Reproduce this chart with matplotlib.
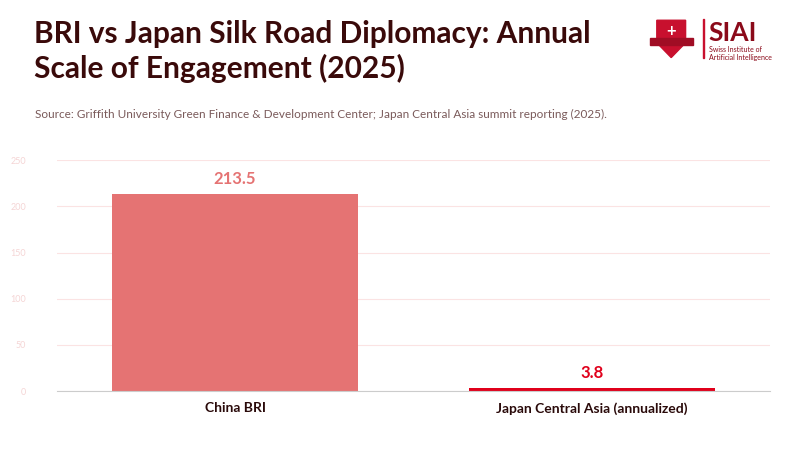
import matplotlib
matplotlib.use('Agg')
import matplotlib.pyplot as plt
from matplotlib.patches import Polygon, Rectangle

plt.rcParams['font.family'] = ['Lato', 'DejaVu Sans']

categories = ['China BRI', 'Japan Central Asia (annualized)']
values = [213.5, 3.8]
bar_colors = ['#e57373', '#e0001b']
label_colors = ['#e57373', '#e0001b']
yticks = [0, 50, 100, 150, 200, 250]

fig = plt.figure(figsize=(8, 4.5), dpi=100)
ax = fig.add_axes([0.071, 0.131, 0.8915, 0.513])

x = range(len(categories))
ax.bar(x, values, width=0.69, color=bar_colors, zorder=2)
for i, v in enumerate(values):
    ax.text(i, v + 7, f'{v}', ha='center', va='bottom', fontsize=12,
            fontweight='bold', color=label_colors[i])

ax.set_xlim(-0.5, 1.5)
ax.set_ylim(0, 250)
ax.set_yticks(yticks)
ax.set_yticklabels([str(t) for t in yticks], fontsize=6.5, color='#f5d5d5')
ax.set_xticks(list(x))
ax.set_xticklabels(categories, fontsize=10, fontweight='bold', color='#2a0a0a')
ax.tick_params(axis='y', length=0, pad=22)
ax.tick_params(axis='x', length=0, pad=8)
ax.grid(axis='y', color='#fbe3e3', linewidth=0.8, zorder=0)
for s in ['top', 'right', 'left']:
    ax.spines[s].set_visible(False)
ax.spines['bottom'].set_color('#cccccc')

fig.text(0.043, 0.955, 'BRI vs Japan Silk Road Diplomacy: Annual\nScale of Engagement (2025)',
         fontsize=21.5, fontweight='bold', color='#3a0a0a', va='top', linespacing=1.25)
fig.text(0.044, 0.738, 'Source: Griffith University Green Finance & Development Center; '
         'Japan Central Asia summit reporting (2025).', fontsize=8.5, color='#7a5a5a')

# logo
shield = Polygon([(0.821, 0.955), (0.857, 0.955), (0.857, 0.905), (0.839, 0.872),
                  (0.821, 0.905)], closed=True, transform=fig.transFigure, color='#c8102e')
fig.patches.append(shield)
fig.patches.append(Rectangle((0.812, 0.9), 0.054, 0.016, transform=fig.transFigure,
                             color='#a00d24'))
fig.text(0.839, 0.932, '+', ha='center', va='center', fontsize=12, fontweight='bold',
         color='white')
fig.patches.append(Rectangle((0.8785, 0.872), 0.0015, 0.085, transform=fig.transFigure,
                             color='#c8102e'))
fig.text(0.885, 0.908, 'SIAI', fontsize=19, fontweight='bold', color='#8b0a1a')
fig.text(0.886, 0.884, 'Swiss Institute of', fontsize=5, color='#8b0a1a')
fig.text(0.886, 0.867, 'Artificial Intelligence', fontsize=5, color='#8b0a1a')

fig.savefig('out.png', dpi=100, facecolor='white')
